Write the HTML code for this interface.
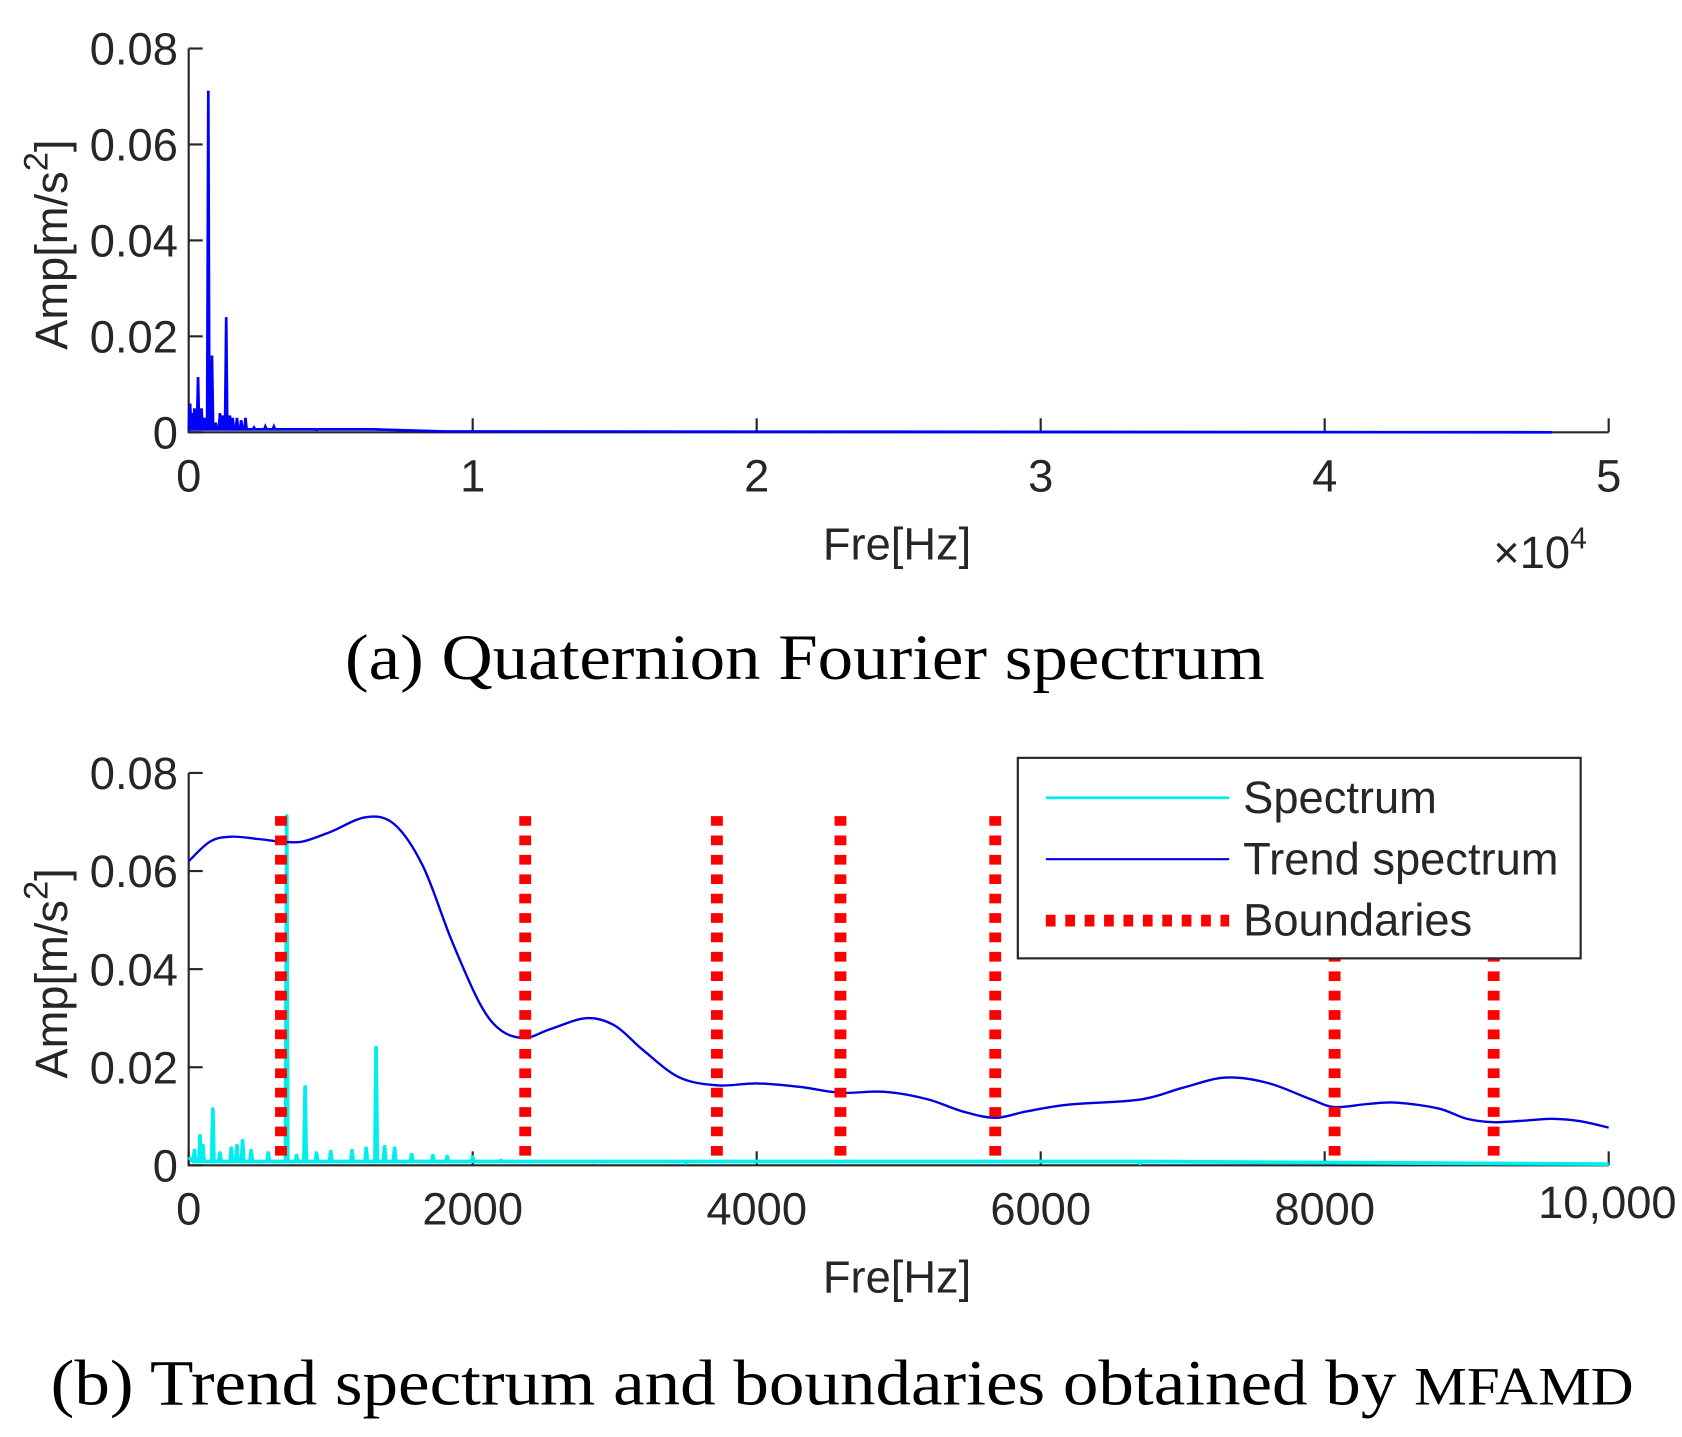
<!DOCTYPE html>
<html><head><meta charset="utf-8"><style>
body{margin:0;background:#fff}
svg{display:block}
.t{font-family:"Liberation Sans",sans-serif;font-size:42px;fill:#262626}
.c{font-family:"Liberation Serif",serif;font-size:60px;fill:#000}
</style></head><body>
<svg id="s" width="1682" height="1437" viewBox="0 0 1560 1333" preserveAspectRatio="none">
<g id="ga"></g>
<g id="gb"></g>
<text class="c" x="320" y="630" textLength="853" lengthAdjust="spacingAndGlyphs">(a) Quaternion Fourier spectrum</text>
<text class="c" x="47" y="1303" textLength="1468" lengthAdjust="spacingAndGlyphs">(b) Trend spectrum and boundaries obtained by <tspan font-size="50">MFAMD</tspan></text>
</svg>
<script>
const NS="http://www.w3.org/2000/svg";
// chart a data
const aSpikeHz=[50,100,200,330,450,560,690,820,950,1100,1200,1320,1450,1550,1700,1850,2000,2300,2700,3000,4500,6500];
const aSpikeAmp=[0.006,0.004,0.005,0.0115,0.005,0.003,0.0712,0.016,0.002,0.004,0.0035,0.024,0.0035,0.003,0.003,0.0025,0.003,0.001,0.0012,0.0012,0.0005,0.0006];
const aXTicks=[0,1,2,3,4,5];
const yTicks=["0","0.02","0.04","0.06","0.08"];
// chart b data
const bSpikeHz=[40,80,100,170,220,300,340,380,440,560,690,760,820,900,1000,1150,1250,1320,1380,1450,1570,1720,1820,2000,2200,2650,2850,3500,6700];
const bSpikeAmp=[0.003,0.006,0.004,0.0115,0.0025,0.0035,0.004,0.005,0.003,0.0025,0.0712,0.002,0.016,0.0025,0.0028,0.003,0.0035,0.024,0.0038,0.0035,0.0022,0.002,0.0018,0.0017,0.001,0.0008,0.0007,0.0005,0.0004];
const trendHz=[0,150,300,500,650,800,1000,1250,1450,1650,1850,2050,2200,2370,2550,2800,3000,3200,3450,3720,4000,4300,4590,4900,5200,5450,5680,5900,6200,6700,7000,7300,7600,7900,8070,8300,8500,8800,9000,9190,9400,9600,9800,10000];
const trendAmp=[0.062,0.066,0.067,0.0665,0.066,0.066,0.068,0.071,0.0695,0.061,0.046,0.033,0.0275,0.026,0.0278,0.030,0.0285,0.0235,0.018,0.0163,0.0167,0.016,0.0148,0.015,0.0135,0.011,0.0097,0.011,0.0124,0.0134,0.0158,0.0179,0.0168,0.0135,0.0119,0.0125,0.0128,0.0116,0.0095,0.0088,0.0091,0.0095,0.009,0.0077];
const boundHz=[650,2370,3720,4590,5680,8070,9190];
const bXTicks=[0,2000,4000,6000,8000,10000];
const bXLabels=["0","2000","4000","6000","8000","10,000"];

function el(p,tag,attrs,txt){const e=document.createElementNS(NS,tag);for(const k in attrs)e.setAttribute(k,attrs[k]);if(txt!==undefined)e.textContent=txt;p.appendChild(e);return e;}
const L=175,R=1492;
function axes(g,y0,y1,xmax,ticks,labels){
  const ys=v=>y0+(y1-y0)*v/0.08;
  const a1=el(g,'path',{d:`M${L} ${y1}V${y0}H${R}`,fill:'none',stroke:'#262626','stroke-width':2});
  
  yTicks.forEach((t,i)=>{const v=i*0.02,y=ys(v);
    el(g,'line',{x1:L,x2:L+13,y1:y,y2:y,stroke:'#262626','stroke-width':2});
    const tx=el(g,'text',{class:'t',x:L-10,y:y+15,'text-anchor':'end'},t);
    });
  ticks.forEach((t,i)=>{const x=L+(R-L)*t/xmax;
    el(g,'line',{x1:x,x2:x,y1:y0,y2:y0-13,stroke:'#262626','stroke-width':2});
    const last=labels[i]==="10,000";
    const tx=el(g,'text',{class:'t',x:last?1555:x,y:y0+(last?49:55),'text-anchor':last?'end':'middle','font-size':last?36:42},labels[i]);
    });
  const xt=el(g,'text',{class:'t',x:832,y:y0+118,'text-anchor':'middle','font-size':46},'Fre[Hz]');
  
  const yt=el(g,'text',{class:'t',transform:`translate(62 ${(y0+y1)/2+4}) rotate(-90)`,'text-anchor':'middle','font-size':48},'Amp[m/s');
  el(yt,'tspan',{dy:-18,'font-size':32},'2');el(yt,'tspan',{dy:18},']');
  
  return ys;
}
function spikes(hz,amp,base,xmax,xs,ys,end){
  let pts=[[0,base*2]];
  hz.forEach((h,i)=>{pts.push([h-8*xmax/10000,base],[h,amp[i]],[h+8*xmax/10000,base]);});
  pts.push([end,base*0.3]);
  return pts.map(p=>xs(p[0]).toFixed(1)+','+ys(p[1]).toFixed(1)).join(' ');
}
// chart a
const ga=document.getElementById('ga');
const xsA=v=>L+(R-L)*v/50000;
const ysA=axes(ga,401,45,5,aXTicks,aXTicks.map(String));
const la=el(ga,'polyline',{points:spikes(aSpikeHz,aSpikeAmp,0.0006,50000,xsA,ysA,9000)+' '+xsA(48000)+','+ysA(0),fill:'none',stroke:'#0000ff','stroke-width':2.5});

const ex=el(ga,'text',{class:'t',x:1385,y:527,'font-size':40},'\u00d710');el(ex,'tspan',{dy:-18,'font-size':28},'4');

// chart b
const gb=document.getElementById('gb');
const ysB=axes(gb,1081,717,10000,bXTicks,bXLabels);
const xsB=v=>L+(R-L)*v/10000;
const lb=el(gb,'polyline',{points:spikes(bSpikeHz,bSpikeAmp,0.0008,10000,xsB,ysB,10000),fill:'none',stroke:'#00eeee','stroke-width':3.5,'stroke-linejoin':'round'});

// smooth trend (Catmull-Rom)
const P=trendHz.map((h,i)=>[xsB(h),ysB(trendAmp[i])]);
let d=`M${P[0][0].toFixed(1)} ${P[0][1].toFixed(1)}`;
for(let i=0;i<P.length-1;i++){const p0=P[Math.max(0,i-1)],p1=P[i],p2=P[i+1],p3=P[Math.min(P.length-1,i+2)];
  d+=` C${(p1[0]+(p2[0]-p0[0])/6).toFixed(1)} ${(p1[1]+(p2[1]-p0[1])/6).toFixed(1)} ${(p2[0]-(p3[0]-p1[0])/6).toFixed(1)} ${(p2[1]-(p3[1]-p1[1])/6).toFixed(1)} ${p2[0].toFixed(1)} ${p2[1].toFixed(1)}`;}
const tr=el(gb,'path',{d:d,fill:'none',stroke:'#0000e0','stroke-width':2.2});

boundHz.forEach(h=>{const x=xsB(h);
  const b=el(gb,'line',{x1:x,x2:x,y1:ysB(0.0712),y2:ysB(0),stroke:'#ff0000','stroke-width':11,'stroke-dasharray':'9 9'});
  });
const lg=el(gb,'g',{});

el(lg,'rect',{x:944,y:703,width:522,height:186,fill:'#fff',stroke:'#262626','stroke-width':2});
[['Spectrum','#00eeee',2.5,null,740],['Trend spectrum','#0000e0',2,null,797],['Boundaries','#ff0000',11,'9 9',854]].forEach(r=>{
  const le=el(lg,'g',{});
  
  const a={x1:970,x2:1140,y1:r[4],y2:r[4],stroke:r[1],'stroke-width':r[2]};if(r[3])a['stroke-dasharray']=r[3];
  el(le,'line',a);el(le,'text',{class:'t',x:1153,y:r[4]+14,fill:'#000','font-size':40},r[0]);
});
</script>
</body></html>
